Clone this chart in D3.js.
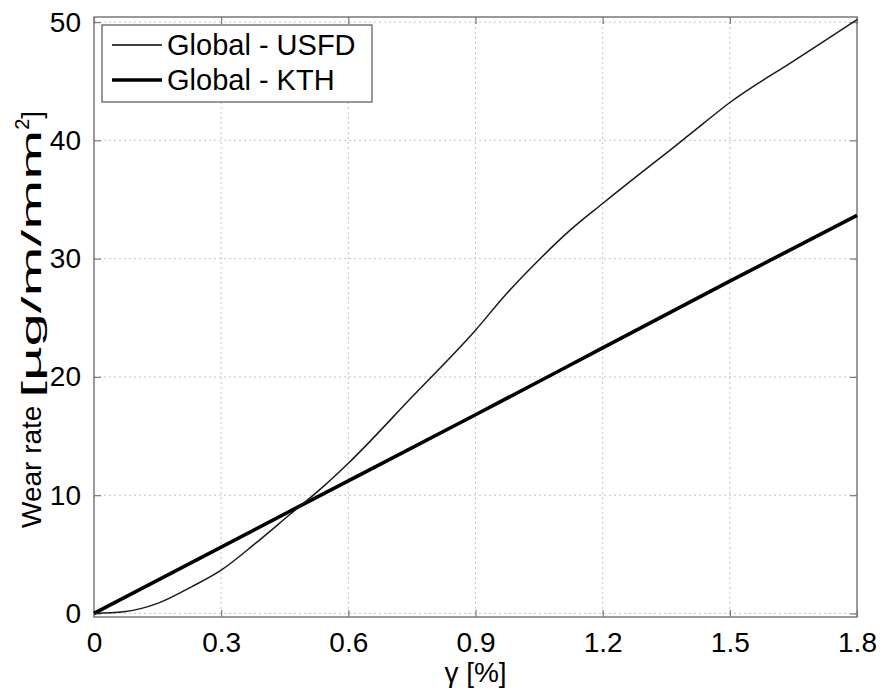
<!DOCTYPE html>
<html>
<head>
<meta charset="utf-8">
<script src="https://cdn.jsdelivr.net/npm/d3@7"></script>
<style>
  body { margin: 0; background: #fff; }
  text { font-family: "Liberation Sans", Arial, sans-serif; fill: #000; }
</style>
</head>
<body>
<div id="chart"></div>
<script>
// data
let usfdX = [0, 0.07, 0.15, 0.23, 0.3, 0.38, 0.46, 0.54, 0.6, 0.75, 0.9, 0.97, 1.05, 1.12, 1.2, 1.28, 1.36, 1.44, 1.5, 1.65, 1.8];
let usfdY = [0, 0.14, 0.85, 2.25, 3.66, 5.9, 8.3, 10.7, 12.7, 18.3, 23.95, 26.9, 29.9, 32.3, 34.66, 36.95, 39.2, 41.5, 43.2, 46.7, 50.2];
let kthX = [0, 0.5, 0.9, 1.2, 1.5, 1.8];
let kthY = [0, 9.35, 16.8, 22.45, 28.1, 33.65];
let xTicks = [0, 0.3, 0.6, 0.9, 1.2, 1.5, 1.8];
let yTicks = [0, 10, 20, 30, 40, 50];
let seriesNames = ["Global - USFD", "Global - KTH"];

let width = 882, height = 690;
let margin = {top: 17, right: 25, bottom: 73, left: 94};
let w = width - margin.left - margin.right;
let h = height - margin.top - margin.bottom;
let axisColor = "#7a7a7a";

let svg = d3.select("#chart").append("svg")
  .attr("width", width)
  .attr("height", height);

let g = svg.append("g")
  .attr("transform", "translate(" + margin.left + "," + margin.top + ")");

let xScale = d3.scaleLinear().domain([0, 1.8]).range([0, w]);
let yScale = d3.scaleLinear().domain([-0.3, 50.43]).range([h, 0]);

// grid lines (dotted, MATLAB style)
g.append("g").selectAll("line").data(xTicks.slice(1, -1)).enter()
  .append("line")
  .attr("x1", d => xScale(d)).attr("x2", d => xScale(d))
  .attr("y1", 0).attr("y2", h)
  .attr("stroke", "#c4c4c4").attr("stroke-dasharray", "2,3");
g.append("g").selectAll("line").data(yTicks).enter()
  .append("line")
  .attr("x1", 0).attr("x2", w)
  .attr("y1", d => yScale(d)).attr("y2", d => yScale(d))
  .attr("stroke", "#c4c4c4").attr("stroke-dasharray", "2,3");

// axes with inward ticks
function styleAxis(sel) {
  sel.select(".domain").remove();
  sel.selectAll(".tick line").attr("stroke", axisColor).attr("stroke-width", 1.2);
  sel.selectAll(".tick text").style("font-size", "28px").attr("fill", "#000");
}

g.append("g").attr("transform", "translate(0," + h + ")")
  .call(d3.axisBottom(xScale).tickValues(xTicks).tickFormat(d => d === 0 ? "0" : d3.format(".1f")(d))
    .tickSizeInner(-7).tickSizeOuter(0).tickPadding(15))
  .call(styleAxis);
g.append("g")
  .call(d3.axisTop(xScale).tickValues(xTicks).tickFormat("").tickSizeInner(-7).tickSizeOuter(0))
  .call(styleAxis);
g.append("g")
  .call(d3.axisLeft(yScale).tickValues(yTicks).tickFormat(d3.format("d"))
    .tickSizeInner(-7).tickSizeOuter(0).tickPadding(13))
  .call(styleAxis);
g.append("g").attr("transform", "translate(" + w + ",0)")
  .call(d3.axisRight(yScale).tickValues(yTicks).tickFormat("").tickSizeInner(-7).tickSizeOuter(0))
  .call(styleAxis);

// box
g.append("rect")
  .attr("x", 0).attr("y", 0).attr("width", w).attr("height", h)
  .attr("fill", "none").attr("stroke", axisColor).attr("stroke-width", 1.5);

// series
let line = d3.line().x(d => xScale(d[0])).y(d => yScale(d[1])).curve(d3.curveMonotoneX);
let usfd = usfdX.map((x, i) => [x, usfdY[i]]);
let kth = kthX.map((x, i) => [x, kthY[i]]);

g.append("path").datum(kth)
  .attr("d", line).attr("fill", "none")
  .attr("stroke", "#000").attr("stroke-width", 3.6);
g.append("path").datum(usfd)
  .attr("d", line).attr("fill", "none")
  .attr("stroke", "#1a1a1a").attr("stroke-width", 1.5);

// legend
let lg = g.append("g").attr("transform", "translate(8,8)");
lg.append("rect")
  .attr("width", 270).attr("height", 77)
  .attr("fill", "#fff").attr("stroke", "#555").attr("stroke-width", 1.2);
let widths = [1.5, 3.6];
seriesNames.forEach(function(name, i) {
  let yy = 20 + i * 35;
  lg.append("line")
    .attr("x1", 10).attr("x2", 60).attr("y1", yy).attr("y2", yy)
    .attr("stroke", "#000").attr("stroke-width", widths[i]);
  lg.append("text")
    .attr("x", 65).attr("y", yy + 10)
    .style("font-size", "29px")
    .text(name);
});

// axis labels
svg.append("text")
  .attr("x", margin.left + w / 2).attr("y", 682)
  .attr("text-anchor", "middle")
  .style("font-size", "28px")
  .text("\u03b3 [%]");

// y label starts near y=528 and runs up to ~y=95
let yl = svg.append("text")
  .attr("transform", "translate(41,528) rotate(-90)")
  .attr("text-anchor", "start")
  .style("font-size", "28px");
yl.append("tspan").text("Wear rate ");
yl.append("tspan").attr("textLength", 268).attr("lengthAdjust", "spacingAndGlyphs")
  .text("[\u00b5g/m/mm");
yl.append("tspan").attr("dy", -12).style("font-size", "20px").text("2");
yl.append("tspan").attr("dy", 12).text("]");
</script>
</body>
</html>
